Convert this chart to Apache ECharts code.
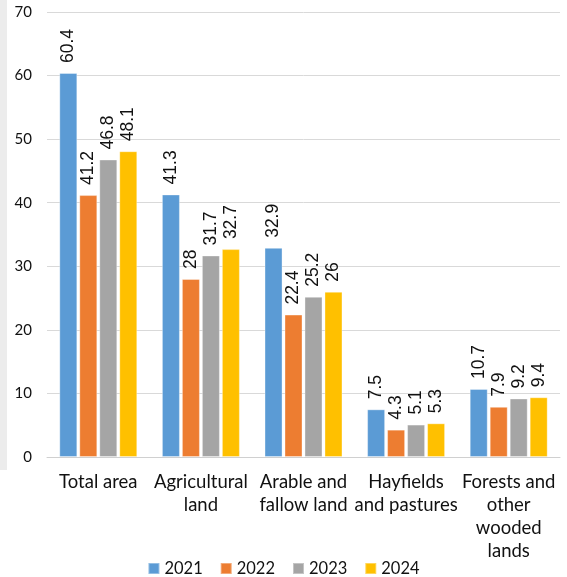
<!DOCTYPE html>
<html><head><meta charset="utf-8">
<script src="https://cdn.jsdelivr.net/npm/echarts@6/dist/echarts.min.js"></script>
<style>html,body{margin:0;padding:0;background:#fff}#c{width:567px;height:577px}</style>
</head><body><div id="c"></div>
<script>
const categories = ['Total area', 'Agricultural\nland', 'Arable and\nfallow land', 'Hayfields\nand pastures', 'Forests and\nother\nwooded\nlands'];
const years = ['2021', '2022', '2023', '2024'];
const v2021 = [60.4, 41.3, 32.9, 7.5, 10.7];
const v2022 = [41.2, 28, 22.4, 4.3, 7.9];
const v2023 = [46.8, 31.7, 25.2, 5.1, 9.2];
const v2024 = [48.1, 32.7, 26, 5.3, 9.4];
const colors = ['#5B9BD5', '#ED7D31', '#A5A5A5', '#FFC000'];
const font = 'Lato';
const values = [v2021, v2022, v2023, v2024];
const chart = echarts.init(document.getElementById('c'));
chart.setOption({
  animation: false,
  textStyle: {fontFamily: font},
  graphic: [{type: 'rect', left: 0, top: 0, shape: {width: 7, height: 470}, style: {fill: '#ececec'}, silent: true, z: -10}],
  grid: {left: 47, right: 7, top: 12, bottom: 120, containLabel: false},
  legend: {
    top: 555, left: 'center', itemWidth: 11, itemHeight: 11, itemGap: 17,
    icon: 'rect',
    textStyle: {fontFamily: font, fontSize: 16.5, color: '#111'},
    data: years
  },
  xAxis: {
    type: 'category', data: categories,
    axisLine: {lineStyle: {color: '#d0d0d0', width: 1}},
    axisTick: {show: false},
    axisLabel: {fontFamily: font, fontSize: 18.5, color: '#111', lineHeight: 23, margin: 14, interval: 0}
  },
  yAxis: {
    type: 'value', min: 0, max: 70, interval: 10,
    axisLine: {show: false}, axisTick: {show: false},
    splitLine: {lineStyle: {color: '#d9d9d9', width: 1}},
    axisLabel: {fontFamily: font, fontSize: 15, color: '#111', margin: 15}
  },
  series: years.map((y, i) => ({
    name: y, type: 'bar', data: values[i],
    itemStyle: {color: colors[i], borderColor: 'rgba(255,255,255,0.35)', borderWidth: 1},
    barGap: '11%', barCategoryGap: '24%',
    label: {show: true, position: 'top', rotate: 90, align: 'left', verticalAlign: 'middle',
      distance: 10, fontFamily: 'Liberation Sans', fontSize: 17.5, color: '#111'}
  }))
});
</script></body></html>
